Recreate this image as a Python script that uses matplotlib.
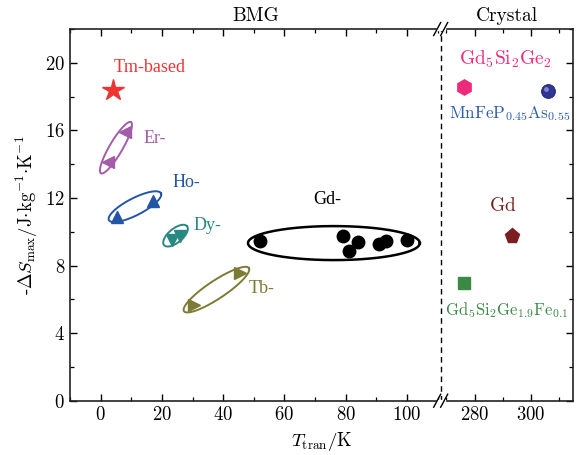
import numpy as np
import matplotlib
matplotlib.use("Agg")
import matplotlib.pyplot as plt
from matplotlib.ticker import MultipleLocator, FixedLocator
from matplotlib.lines import Line2D
from matplotlib.transforms import ScaledTranslation

plt.rcParams.update({
    "font.family": "serif",
    "font.serif": ["cmr10"],
    "mathtext.fontset": "cm",
    "axes.formatter.use_mathtext": True,
    "axes.unicode_minus": True,
    "font.size": 13,
})

# ---- BMG data (T_tran in K, -dS_max in J/kg/K) ----
tm_T, tm_S = [4.0], [18.38]
er_T, er_S = [7.9, 2.4], [15.9, 14.1]
ho_T, ho_S = [5.4, 17.0], [10.9, 11.83]
dy_T, dy_S = [23.3, 25.9], [9.5, 9.74]
tb_T, tb_S = [30.5, 45.5], [5.66, 7.54]
gd_T = [51.9, 79.0, 81.1, 84.1, 90.9, 93.1, 100.1]
gd_S = [9.47, 9.76, 8.88, 9.41, 9.27, 9.45, 9.49]

# ---- crystalline reference materials ----
gd5si2ge2_T, gd5si2ge2_S = [276.1], [18.58]
mnfep_T, mnfep_S = [306.1], [18.33]
gd_cr_T, gd_cr_S = [293.2], [9.76]
gd5fe_T, gd5fe_S = [276.1], [6.98]

# axis limits / ticks
xlim_bmg = (-10, 111)
xlim_cr = (268, 315)
ylim = (0, 22)
xticks_bmg = [0, 20, 40, 60, 80, 100]
xticks_cr = [280, 300]
yticks = [0, 4, 8, 12, 16, 20]

c_tm = "#ee3333"
c_er = "#a45ba9"
c_ho = "#2355a6"
c_dy = "#2a8882"
c_tb = "#7b7b35"
c_pink = "#ee2a7b"
c_navy = "#2e3592"
c_mnlab = "#2d5cab"
c_gdcr = "#7a1e22"
c_green = "#3a8a45"

fig = plt.figure(figsize=(5.79, 4.55), dpi=100)
bottom, height = 0.1193, 0.8169
ax = fig.add_axes([0.1209, bottom, 0.6402, height])
ax2 = fig.add_axes([0.7611, bottom, 0.2290, height])

for a in (ax, ax2):
    a.set_ylim(*ylim)
    a.tick_params(which="both", direction="in", top=True, labelsize=13.5)
    a.tick_params(which="major", length=5, width=1.0)
    a.tick_params(which="minor", length=3, width=0.9)
    for s in a.spines.values():
        s.set_linewidth(1.2)
        s.set_color("#222222")

ax.set_xlim(*xlim_bmg)
ax2.set_xlim(*xlim_cr)
ax.set_xticks(xticks_bmg)
ax.xaxis.set_minor_locator(MultipleLocator(10))
ax.set_yticks(yticks)
ax.yaxis.set_minor_locator(MultipleLocator(2))
ax.tick_params(axis="y", right=False)
ax2.set_xticks(xticks_cr)
ax2.xaxis.set_minor_locator(FixedLocator([270, 290, 310]))
ax2.set_yticks(yticks)
ax2.yaxis.set_minor_locator(MultipleLocator(2))
ax2.tick_params(axis="y", which="both", left=False, right=True, labelleft=False)

ax.spines["right"].set_visible(False)
ax2.spines["left"].set_visible(False)


def ring(axis, p0, p1, half_px, color, lw=1.4):
    """Closed ellipse whose major axis runs p0 -> p1 (data), minor half-width in pixels."""
    T = axis.transData
    d0, d1 = T.transform([p0, p1])
    c = (d0 + d1) / 2
    u = (d1 - d0)
    a = np.hypot(*u) / 2
    u = u / (2 * a)
    v = np.array([-u[1], u[0]])
    t = np.linspace(0, 2 * np.pi, 300)
    pts = c + a * np.cos(t)[:, None] * u + half_px * np.sin(t)[:, None] * v
    data = T.inverted().transform(pts)
    axis.plot(data[:, 0], data[:, 1], color=color, lw=lw, zorder=2)


# group outlines
ring(ax, (0.1, 13.46), (9.9, 16.49), 6.5, c_er)
ring(ax, (2.7, 10.69), (19.7, 12.28), 8.5, c_ho)
ring(ax, (20.7, 9.21), (28.2, 10.33), 7.0, c_dy)
ring(ax, (27.2, 5.30), (48.4, 7.85), 9.0, c_tb)
ring(ax, (48.1, 9.33), (104.2, 9.33), 17.0, "black", lw=1.8)

ax.plot(tm_T, tm_S, ls="none", marker="*", ms=16, color=c_tm, zorder=3)
ax.plot(er_T, er_S, ls="none", marker="<", ms=9, color=c_er, zorder=3)
ax.plot(ho_T, ho_S, ls="none", marker="^", ms=9, color=c_ho, zorder=3)
ax.plot(dy_T, dy_S, ls="none", marker="v", ms=9, color=c_dy, zorder=3)
ax.plot(tb_T, tb_S, ls="none", marker=">", ms=9, color=c_tb, zorder=3)
ax.plot(gd_T, gd_S, ls="none", marker="o", ms=9, color="black", zorder=3)

lab = dict(family="Liberation Serif", fontsize=13, ha="center", va="center")
ax.text(16.1, 19.7, "Tm-based", color=c_tm, **lab)
ax.text(17.7, 15.5, "Er-", color=c_er, **lab)
ax.text(27.9, 12.9, "Ho-", color=c_ho, **lab)
ax.text(35.0, 10.4, "Dy-", color=c_dy, **lab)
ax.text(52.6, 6.66, "Tb-", color=c_tb, **lab)
ax.text(73.9, 11.9, "Gd-", color="black", **lab)

# crystalline materials
ax2.plot(gd5si2ge2_T, gd5si2ge2_S, ls="none", marker="h", ms=11, color=c_pink, zorder=3)
ax2.plot(gd_cr_T, gd_cr_S, ls="none", marker="p", ms=11, color=c_gdcr, zorder=3)
ax2.plot(gd5fe_T, gd5fe_S, ls="none", marker="s", ms=8.5, color=c_green, zorder=3)
ax2.plot(mnfep_T, mnfep_S, ls="none", marker="o", ms=10, color=c_navy,
         markeredgecolor="#1c2270", markeredgewidth=0.6, zorder=3)
# small highlight on the sphere
shine = ax2.transData + ScaledTranslation(-1.5 / 72, 1.5 / 72, fig.dpi_scale_trans)
ax2.plot(mnfep_T, mnfep_S, ls="none", marker="o", ms=3.5, color="#7f86cf",
         markeredgewidth=0, zorder=4, transform=shine)

ax2.text(290.8, 20.2, r"$\mathrm{Gd_5Si_2Ge_2}$", color=c_pink, fontsize=14, ha="center", va="center")
ax2.text(292.3, 17.0, r"$\mathrm{MnFeP_{0.45}As_{0.55}}$", color=c_mnlab, fontsize=12.3, ha="center", va="center")
ax2.text(290.0, 11.5, r"$\mathrm{Gd}$", color=c_gdcr, fontsize=14, ha="center", va="center")
ax2.text(291.4, 5.37, r"$\mathrm{Gd_5Si_2Ge_{1.9}Fe_{0.1}}$", color=c_green, fontsize=12, ha="center", va="center")

ax.text(0.5, 1.012, "BMG", transform=ax.transAxes, ha="center", va="bottom", fontsize=14)
ax2.text(0.5, 1.012, "Crystal", transform=ax2.transAxes, ha="center", va="bottom", fontsize=14)

ax.set_ylabel(r"$\text{-}\Delta S_{\rm max}/{\rm J{\cdot}kg^{-1}{\cdot}K^{-1}}$", fontsize=13.5, labelpad=4)
fig.text(0.5555, 0.030, r"$T_{\rm tran}/{\rm K}$", ha="center", va="center", fontsize=13.5)

# dashed divider at the axis break
xb = 0.1209 + 0.6402
fig.add_artist(Line2D([xb, xb], [bottom, bottom + height], transform=fig.transFigure,
                      color="black", lw=1.0, ls=(0, (4, 3))))

# break marks on the top and bottom spines
W, H = fig.get_size_inches() * fig.dpi
for yb in (bottom, bottom + height):
    xp, yp = xb * W, yb * H
    fig.add_artist(Line2D([(xp - 3) / W, (xp + 3) / W], [yp / H, yp / H],
                          transform=fig.transFigure, color="white", lw=2.5, zorder=5))
    for dx in (-3.5, 3.5):
        fig.add_artist(Line2D([(xp + dx - 3.5) / W, (xp + dx + 3.5) / W],
                              [(yp - 6.5) / H, (yp + 6.5) / H],
                              transform=fig.transFigure, color="black", lw=1.0, zorder=6))

fig.savefig("out.png", dpi=100)
